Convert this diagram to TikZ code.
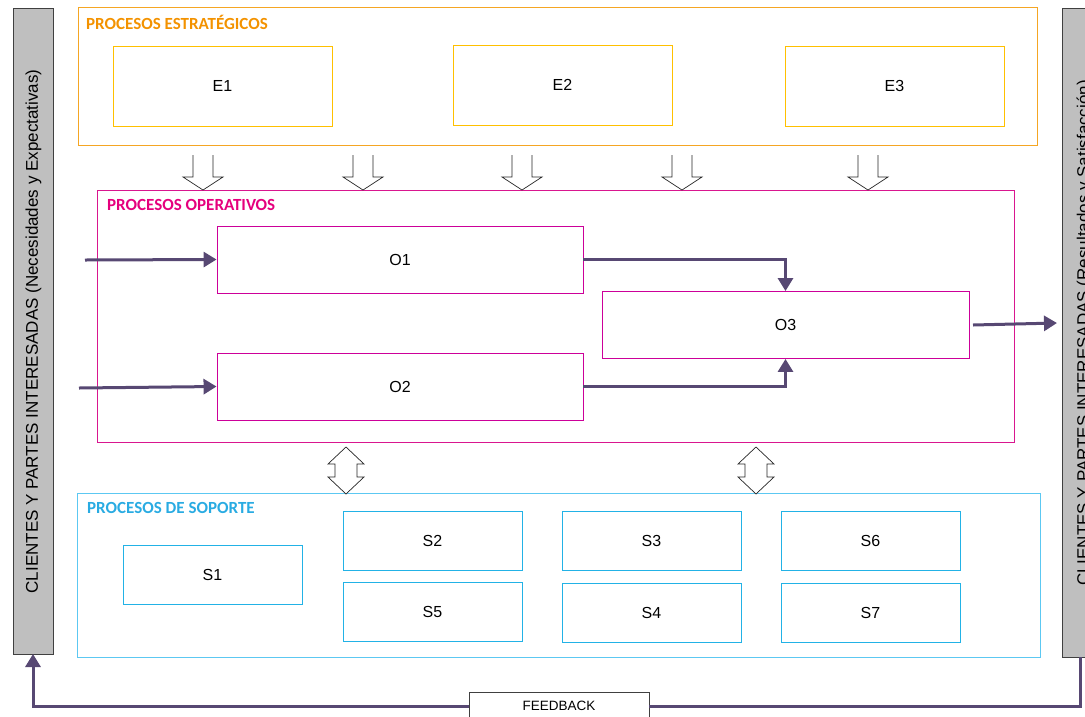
\documentclass[tikz,border=0pt]{standalone}
\usepackage{fontspec}
\setmainfont{Liberation Sans}
\newfontfamily\titlefont{Carlito}
\usetikzlibrary{arrows.meta}

\definecolor{strat}{HTML}{F5A623}
\definecolor{stratin}{HTML}{FFC000}
\definecolor{strattxt}{HTML}{F39200}
\definecolor{oper}{HTML}{D9168F}
\definecolor{operin}{HTML}{CC0099}
\definecolor{opertxt}{HTML}{E5007D}
\definecolor{supp}{HTML}{5CC8F2}
\definecolor{suppin}{HTML}{22B2E6}
\definecolor{supptxt}{HTML}{29ABE2}
\definecolor{flowc}{HTML}{574873}
\definecolor{barfill}{HTML}{BFBFBF}
\definecolor{barline}{HTML}{404040}

\tikzset{
  areabox/.style={draw, line width=1.1pt, anchor=north west, inner sep=0pt},
  proc/.style={draw, line width=0.9pt, fill=white, inner sep=0pt,
    font=\fontsize{16}{18}\selectfont},
  areatitle/.style={anchor=west, inner sep=0pt,
    font=\titlefont\bfseries\fontsize{17}{19}\selectfont},
  sidebar/.style={draw=barline, fill=barfill, line width=1pt, inner sep=0pt,
    anchor=north west, minimum width=40pt},
  sidetext/.style={rotate=90, inner sep=0pt, font=\fontsize{17}{19}\selectfont},
  flow/.style={draw=flowc, line width=3pt, -{Triangle[length=13pt,width=15pt]}},
  flowline/.style={draw=flowc, line width=3pt},
  hollow/.style={draw=black!85, line width=0.7pt, fill=white, line join=miter},
}

\begin{document}
\begin{tikzpicture}[x=1pt, y=-1pt]
\useasboundingbox (0,0) rectangle (1085,716);
\clip (0,0) rectangle (1085,716);

% stakeholder bars at both sides
\node[sidebar, minimum height=646pt] (lbar) at (13,8) {};
\node[sidetext] at (lbar.center) {CLIENTES Y PARTES INTERESADAS (Necesidades y Expectativas)};
\node[sidebar, minimum height=649pt] (rbar) at (1062,8) {};
\node[sidetext] at ([xshift=2pt]rbar.center) {CLIENTES Y PARTES INTERESADAS (Resultados y Satisfacción)};

% strategic processes
\node[areabox, draw=strat, minimum width=959pt, minimum height=138pt] (PE) at (78,7) {};
\node[areatitle, text=strattxt] (tPE) at (86,22) {PROCESOS ESTRATÉGICOS};
\node[proc, draw=stratin, minimum width=219pt, minimum height=80pt] (E1) at (222.5,86) {E1};
\node[proc, draw=stratin, minimum width=219pt, minimum height=80pt] (E2) at (562.5,85) {E2};
\node[proc, draw=stratin, minimum width=219pt, minimum height=80pt] (E3) at (894.5,86) {E3};

% operational processes
\node[areabox, draw=oper, minimum width=917pt, minimum height=252pt] (PO) at (97,190) {};
\node[areatitle, text=opertxt] (tPO) at (107,205) {PROCESOS OPERATIVOS};
\node[proc, draw=operin, minimum width=366pt, minimum height=67pt] (O1) at (400,259.5) {O1};
\node[proc, draw=operin, minimum width=366pt, minimum height=67pt] (O2) at (400,386.5) {O2};
\node[proc, draw=operin, minimum width=367pt, minimum height=67pt] (O3) at (785.5,325) {O3};

% support processes
\node[areabox, draw=supp, minimum width=963pt, minimum height=164pt] (PS) at (77,493) {};
\node[areatitle, text=supptxt] (tPS) at (87,508) {PROCESOS DE SOPORTE};
\node[proc, draw=suppin, minimum width=179pt, minimum height=59pt] (S1) at (212.5,574.5) {S1};
\node[proc, draw=suppin, minimum width=179pt, minimum height=59pt] (S2) at (432.5,540.5) {S2};
\node[proc, draw=suppin, minimum width=179pt, minimum height=59pt] (S5) at (432.5,611.5) {S5};
\node[proc, draw=suppin, minimum width=179pt, minimum height=59pt] (S3) at (651.5,540.5) {S3};
\node[proc, draw=suppin, minimum width=179pt, minimum height=59pt] (S4) at (651.5,612.5) {S4};
\node[proc, draw=suppin, minimum width=179pt, minimum height=59pt] (S6) at (870.5,540.5) {S6};
\node[proc, draw=suppin, minimum width=179pt, minimum height=59pt] (S7) at (870.5,612.5) {S7};

% open block arrows from strategic to operational processes
\foreach \x in {203,363,522,682,868} {
  \draw[hollow] (\x-10,155) -- (\x-10,177) -- (\x-20,177) -- (\x,190)
    -- (\x+20,177) -- (\x+10,177) -- (\x+10,155);
}

% two-way block arrows between operational and support processes
\foreach \x in {346,756} {
  \draw[hollow] (\x,447) -- (\x+18,464) -- (\x+11,464) -- (\x+11,477)
    -- (\x+18,477) -- (\x,494) -- (\x-18,477) -- (\x-11,477)
    -- (\x-11,464) -- (\x-18,464) -- cycle;
}

% process flow
\coordinate (in1) at (85,260);
\coordinate (in2) at (79,388);
\draw[flow] (in1) -- (O1.west);
\draw[flow] (in2) -- (O2.west);
\draw[flow] (O1.east) -| (O3.north);
\draw[flow] (O2.east) -| (O3.south);
\coordinate (out) at (973,325);
\coordinate (outEnd) at (1057,323);
\draw[flow] (out) -- (outEnd);

% feedback loop
\node[draw=barline, fill=white, line width=0.9pt, minimum width=180pt,
  minimum height=28pt, inner sep=0pt, font=\fontsize{13.5}{15}\selectfont]
  (FB) at (559,706) {FEEDBACK};
\coordinate (fbR) at (1080,657);
\coordinate (fbL) at (33,654);
\draw[flowline] (fbR) |- (FB.east);
\draw[flow] (FB.west) -| (fbL);
\end{tikzpicture}
\end{document}
